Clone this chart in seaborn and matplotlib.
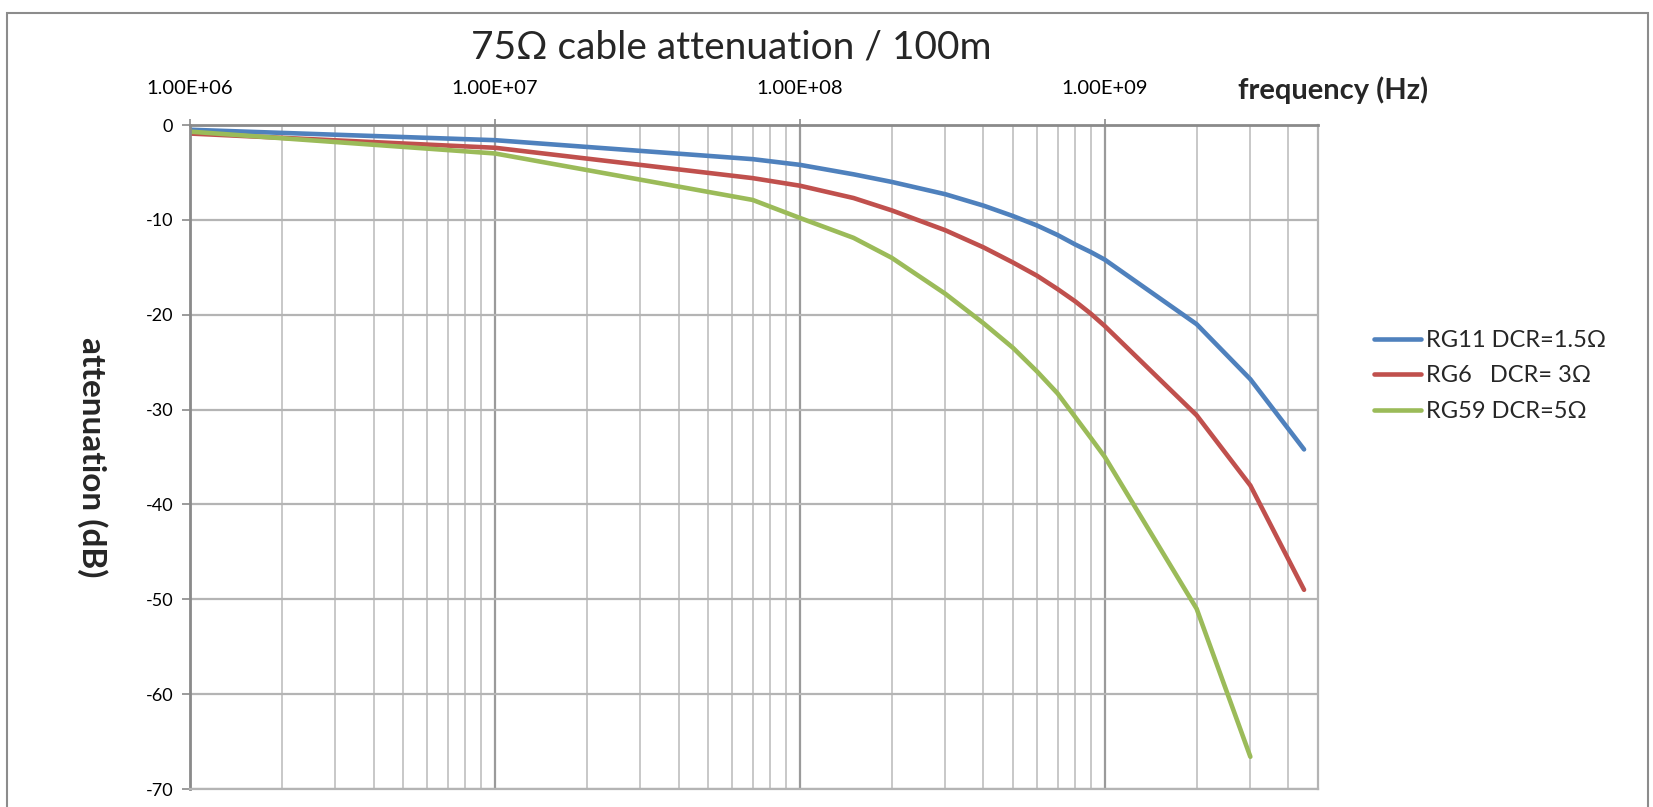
import numpy as np
import pandas as pd
import matplotlib
matplotlib.use("Agg")
import matplotlib.pyplot as plt
import matplotlib.ticker as mticker
from matplotlib.patches import Rectangle
import seaborn as sns

# ---- data ----
freq_hz = [1e6, 1e7, 7e7, 1e8, 1.5e8, 2e8, 3e8, 4e8, 5e8, 6e8, 7e8, 8e8, 9e8, 1e9,
           2e9, 3e9, 4.5e9]
rg11 = [-0.5, -1.6, -3.6, -4.2, -5.2, -6.0, -7.3, -8.5, -9.6, -10.6, -11.6, -12.6, -13.4,
        -14.2, -21.0, -26.8, -34.2]
rg6 = [-0.9, -2.4, -5.6, -6.4, -7.7, -9.0, -11.1, -12.9, -14.5, -15.9, -17.3, -18.6, -19.9,
       -21.2, -30.6, -38.0, -49.0]
freq_rg59 = [1e6, 1e7, 7e7, 1e8, 1.5e8, 2e8, 3e8, 4e8, 5e8, 6e8, 7e8, 8e8, 9e8, 1e9,
             2e9, 3e9]
rg59 = [-0.7, -3.0, -7.9, -9.8, -11.9, -14.0, -17.8, -20.9, -23.5, -26.0, -28.3, -30.8,
        -33.0, -35.0, -51.0, -66.6]

series_names = ["RG11 DCR=1.5Ω", "RG6   DCR= 3Ω", "RG59 DCR=5Ω"]
series_colors = ["#4F81BD", "#C0504D", "#9BBB59"]
y_ticks = [0, -10, -20, -30, -40, -50, -60, -70]
x_decades = [1e6, 1e7, 1e8, 1e9]

df = pd.concat([
    pd.DataFrame({"freq": freq_hz, "att": rg11, "cable": series_names[0]}),
    pd.DataFrame({"freq": freq_hz, "att": rg6, "cable": series_names[1]}),
    pd.DataFrame({"freq": freq_rg59, "att": rg59, "cable": series_names[2]}),
], ignore_index=True)

sns.set_theme(style="white")
FONT = ["Lato", "DejaVu Sans"]
plt.rcParams["font.family"] = FONT
plt.rcParams["axes.unicode_minus"] = False

W, H = 1653, 807
fig = plt.figure(figsize=(W / 100, H / 100), dpi=100)
L, R, T, B = 190, 1318, 125, 789
ax = fig.add_axes([L / W, 1 - B / H, (R - L) / W, (B - T) / H])

sns.lineplot(data=df, x="freq", y="att", hue="cable", hue_order=series_names,
             palette=series_colors, linewidth=3.3, ax=ax, sort=False,
             estimator=None, legend=True)
for ln in ax.get_lines():
    ln.set_solid_joinstyle("round")
    ln.set_solid_capstyle("round")

ax.set_xscale("log")
ax.set_xlim(1e6, 5e9)
ax.set_ylim(-70, 0)

# grid
ax.xaxis.set_major_locator(mticker.FixedLocator(x_decades))
ax.xaxis.set_minor_locator(mticker.LogLocator(base=10, subs=np.arange(2, 10)))
ax.xaxis.set_minor_formatter(mticker.NullFormatter())
ax.xaxis.set_major_formatter(mticker.FuncFormatter(lambda v, p: f"{v:.2E}"))
ax.set_yticks(y_ticks)
ax.grid(True, which="minor", axis="x", color="#c8c8c8", linewidth=1.4)
ax.grid(True, which="major", axis="x", color="#9a9a9a", linewidth=1.6)
ax.grid(True, which="major", axis="y", color="#b4b4b4", linewidth=1.6)
ax.set_axisbelow(True)

# x axis on top
ax.xaxis.tick_top()
ax.tick_params(axis="x", which="major", top=True, bottom=False, length=4, width=1.2,
               color="#8a8a8a", labelsize=14.5, pad=16, labelcolor="black")
ax.tick_params(axis="x", which="minor", top=False, bottom=False)
ax.tick_params(axis="y", left=True, length=6, width=1.2, color="#8a8a8a",
               labelsize=13, pad=6, labelcolor="black")

for side in ["top", "left"]:
    ax.spines[side].set_color("#8a8a8a")
    ax.spines[side].set_linewidth(2.0)
for side in ["right", "bottom"]:
    ax.spines[side].set_color("#b4b4b4")
    ax.spines[side].set_linewidth(1.6)

# labels
ax.set_xlabel("frequency (Hz)", fontsize=21, fontweight="bold", family=FONT)
ax.xaxis.set_label_position("top")
ax.xaxis.set_label_coords((1333 - L) / (R - L), (B - 90) / (B - T))
ax.xaxis.label.set_va("center")
ax.xaxis.label.set_ha("center")

ax.set_ylabel("attenuation (dB)", fontsize=24, fontweight="bold", rotation=270, family=FONT)
ax.yaxis.set_label_coords((92 - L) / (R - L), (B - 457) / (B - T))
ax.yaxis.label.set_va("center")
ax.yaxis.label.set_ha("center")

ax.set_title("75Ω cable attenuation / 100m", fontsize=28, family=FONT, pad=0,
             x=(731 - L) / (R - L), y=(B - 47) / (B - T), va="center")

# legend
handles, labels = ax.get_legend_handles_labels()
ax.legend(handles, labels, loc="center left", bbox_to_anchor=(1374 / W, 1 - 376 / H),
          bbox_transform=fig.transFigure, frameon=False,
          handlelength=2.0, handletextpad=0.2, labelspacing=0.62, borderpad=0,
          borderaxespad=0, prop={"family": FONT, "size": 17})

# outer chart frame
fig.patches.append(Rectangle((7 / W, -0.05), (1648 - 7) / W, 1 - 13 / H + 0.05,
                             transform=fig.transFigure, fill=False,
                             edgecolor="#8c8c8c", linewidth=1.5))

fig.savefig("out.png", dpi=100)
